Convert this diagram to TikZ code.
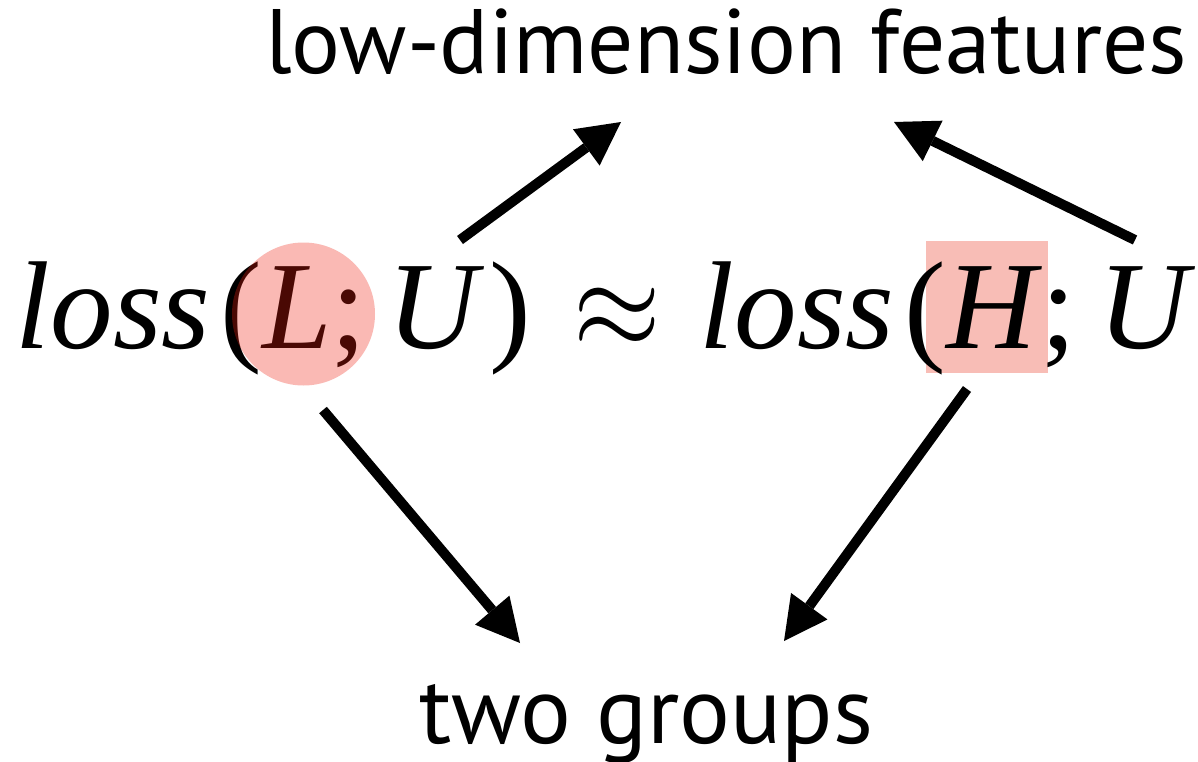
\documentclass[tikz,border=0pt]{standalone}
\usepackage{fontspec}
\usepackage{graphicx}
\setmainfont{Liberation Serif}
\newfontfamily\labelfont{PT Sans}
\DeclareFontShape{OMS}{cmsy}{m}{n}{<->cmsy10}{}
\DeclareFontShape{OML}{cmm}{m}{it}{<->cmmi10}{}
\usetikzlibrary{arrows.meta}
\definecolor{hlpink}{RGB}{248,189,182}
\definecolor{hlred}{RGB}{239,32,16}
\newcommand{\lossgrp}[1]{\textit{loss}\hspace{10pt}(\textit{#1};\hspace{21.5pt}\textit{U}\hspace{5pt})}
\begin{document}
\begin{tikzpicture}[x=1pt,y=-1pt,
  lbl/.style={inner sep=0pt, outer sep=0pt, anchor=base west, font=\labelfont},
  formula/.style={inner sep=0pt, outer sep=0pt, anchor=base west, font=\fontsize{125}{130}\selectfont},
  conn/.style={line width=10pt, line cap=butt, -{Triangle[length=43pt, width=45pt, line width=0pt]}}]
\useasboundingbox (0,0) rectangle (1198,762);
\clip (0,0) rectangle (1198,762);
\fill[white] (0,0) rectangle (1198,762);
% highlight behind H
\fill[hlpink] (926,241) rectangle (1048,373);
% labels
\node[lbl] (top) at (265,74) {\resizebox{922pt}{!}{low-dimension features}};
\node[lbl] (bottom) at (419,743) {\resizebox{454pt}{!}{two groups}};
% formula
\node[formula] (eq) at (16,348) {\lossgrp{L}\hspace{41.9pt}\scalebox{0.9}[1.0]{$\approx$}\hspace{39pt}\lossgrp{H}};
% highlight over L
\fill[hlred, opacity=0.31] (303.5,314) circle (71.5);
% connector end points
\coordinate (a1s) at (460,240); \coordinate (a1e) at (621,122);
\coordinate (a2s) at (1135,240); \coordinate (a2e) at (894,122);
\coordinate (a3s) at (323,410); \coordinate (a3e) at (520,643);
\coordinate (a4s) at (967,389); \coordinate (a4e) at (784,641);
\draw[conn] (a1s) -- (a1e);
\draw[conn] (a2s) -- (a2e);
\draw[conn] (a3s) -- (a3e);
\draw[conn] (a4s) -- (a4e);
\end{tikzpicture}
\end{document}
